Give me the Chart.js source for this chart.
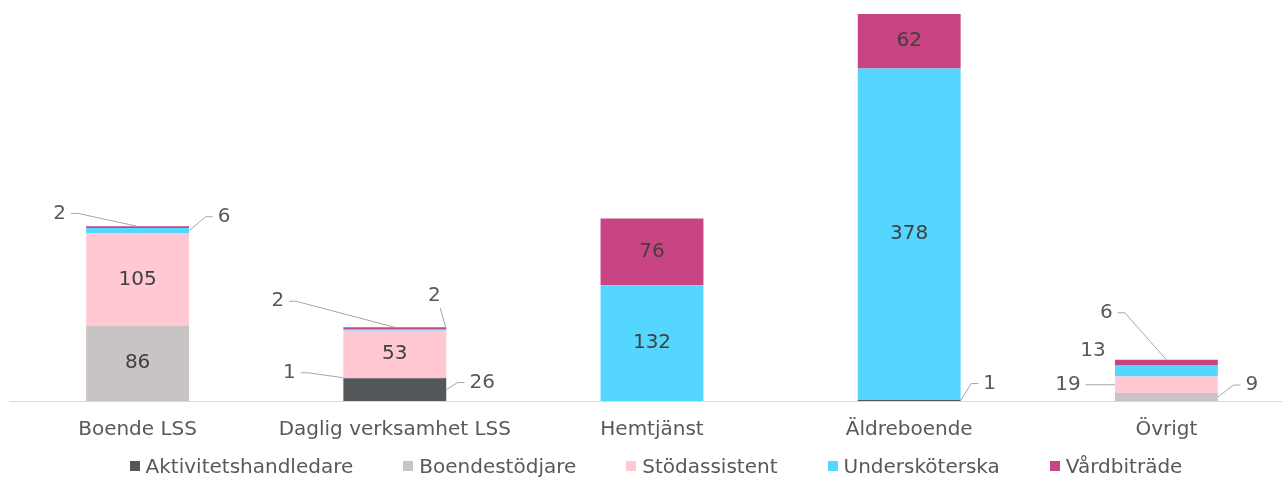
<!DOCTYPE html>
<html>
<head>
<meta charset="utf-8">
<script src="https://cdn.jsdelivr.net/npm/chart.js@4/dist/chart.umd.min.js"></script>
<style>
    html, body { margin: 0; padding: 0; background: #fff; overflow: hidden; }
    #wrap { position: relative; width: 1296px; height: 477px; }
    #legend {
        position: absolute; left: 0; top: 453px; width: 1312px;
        display: flex; justify-content: center; gap: 50px;
        font-family: "DejaVu Sans", sans-serif; font-size: 20px; color: #595959;
        line-height: 26px;
    }
    #legend span.item { display: flex; align-items: center; }
    #legend span.box { width: 10px; height: 10px; margin-right: 6px; display: inline-block; }
</style>
</head>
<body>
<div id="wrap">
    <canvas id="plot" width="1296" height="477"></canvas>
    <div id="legend"></div>
</div>
<script>
const categories = ['Boende LSS', 'Daglig verksamhet LSS', 'Hemtjänst', 'Äldreboende', 'Övrigt'];
const seriesNames = ['Aktivitetshandledare', 'Boendestödjare', 'Stödassistent', 'Undersköterska', 'Vårdbiträde'];
const aktivitetshandledare = [0, 26, 0, 1, 0];
const boendestodjare = [86, 1, 0, 0, 9];
const stodassistent = [105, 53, 0, 0, 19];
const underskoterska = [6, 2, 132, 378, 13];
const vardbitrade = [2, 2, 76, 62, 6];
const seriesColors = ['#54575a', '#c8c4c3', '#ffc8d2', '#55d6ff', '#c84482'];

const FONT = '"DejaVu Sans", sans-serif';

// callouts for thin segments: anchor on the bar (fx across, fy up the segment),
// label offset from that anchor
const callouts = {
    '4-0': { fx: 0.5, fy: 1, dx: -78, dy: -13 },
    '3-0': { fx: 1, fy: 0.5, dx: 35, dy: -14 },
    '4-1': { fx: 0.5, fy: 1, dx: -117, dy: -26 },
    '3-1': { fx: 1, fy: 1, dx: -12, dy: -33, below: true },
    '1-1': { fx: 0, fy: 0.5, dx: -54, dy: -5 },
    '0-1': { fx: 1, fy: 0.5, dx: 36, dy: -7 },
    '0-3': { fx: 1, fy: 0.5, dx: 29, dy: -17 },
    '4-4': { fx: 0.5, fy: 1, dx: -60, dy: -47 },
    '3-4': { fx: 0, fy: 0.5, dx: -22, dy: -20, noLine: true },
    '2-4': { fx: 0, fy: 0.5, dx: -47, dy: 0 },
    '1-4': { fx: 1, fy: 0.5, dx: 34, dy: -12 }
};

const segmentLabels = {
    id: 'segmentLabels',
    afterDatasetsDraw(chart) {
        const ctx = chart.ctx;
        ctx.save();
        ctx.font = '20px ' + FONT;
        ctx.textBaseline = 'middle';
        chart.data.datasets.forEach((ds, di) => {
            const meta = chart.getDatasetMeta(di);
            meta.data.forEach((bar, ci) => {
                const v = ds.data[ci];
                if (!v) return;
                const p = bar.getProps(['x', 'y', 'base', 'width'], true);
                const top = Math.min(p.y, p.base), bottom = Math.max(p.y, p.base);
                const h = bottom - top;
                if (h >= 25) {
                    ctx.fillStyle = '#404040';
                    ctx.textAlign = 'center';
                    ctx.fillText(String(v), p.x, (top + bottom) / 2);
                    return;
                }
                const c = callouts[di + '-' + ci];
                if (!c) return;
                const ax = p.x - p.width / 2 + c.fx * p.width;
                const ay = bottom - c.fy * h;
                const lx = ax + c.dx, ly = ay + c.dy;
                const tw = ctx.measureText(String(v)).width;
                ctx.fillStyle = '#595959';
                ctx.textAlign = 'center';
                ctx.fillText(String(v), lx, ly);
                if (c.noLine) return;
                ctx.strokeStyle = '#a6a6a6';
                ctx.lineWidth = 1;
                ctx.beginPath();
                if (c.below) {
                    ctx.moveTo(lx + 6, ly + 12);
                    ctx.lineTo(ax, ay);
                } else {
                    const side = c.dx < 0 ? 1 : -1;
                    const sx = lx + side * (tw / 2 + 5);
                    ctx.moveTo(sx, ly);
                    ctx.lineTo(sx + side * 7, ly);
                    ctx.lineTo(ax, ay);
                }
                ctx.stroke();
            });
        });
        ctx.restore();
    }
};

const seriesData = [aktivitetshandledare, boendestodjare, stodassistent, underskoterska, vardbitrade];

const ctx = document.getElementById('plot').getContext('2d');
const chart = new Chart(ctx, {
    type: 'bar',
    data: {
        labels: categories,
        datasets: seriesNames.map((name, i) => ({
            label: name,
            data: seriesData[i],
            backgroundColor: seriesColors[i],
            borderWidth: 0,
            categoryPercentage: 1,
            barPercentage: 0.4
        }))
    },
    options: {
        responsive: false,
        animation: false,
        layout: { padding: { left: 9, right: 1, top: 14, bottom: 18 } },
        scales: {
            x: {
                stacked: true,
                grid: { display: false, drawTicks: false },
                border: { color: '#d9d9d9', width: 1 },
                ticks: { color: '#595959', font: { family: FONT, size: 20 }, padding: 17 }
            },
            y: {
                stacked: true,
                display: false,
                min: 0,
                max: 441
            }
        },
        plugins: {
            legend: { display: false },
            tooltip: { enabled: false }
        }
    },
    plugins: [segmentLabels]
});

// legend built from the same series arrays
const legendEl = document.getElementById('legend');
chart.data.datasets.forEach(ds => {
    const item = document.createElement('span');
    item.className = 'item';
    item.innerHTML = '<span class="box" style="background:' + ds.backgroundColor + '"></span>' + ds.label;
    legendEl.appendChild(item);
});
</script>
</body>
</html>
